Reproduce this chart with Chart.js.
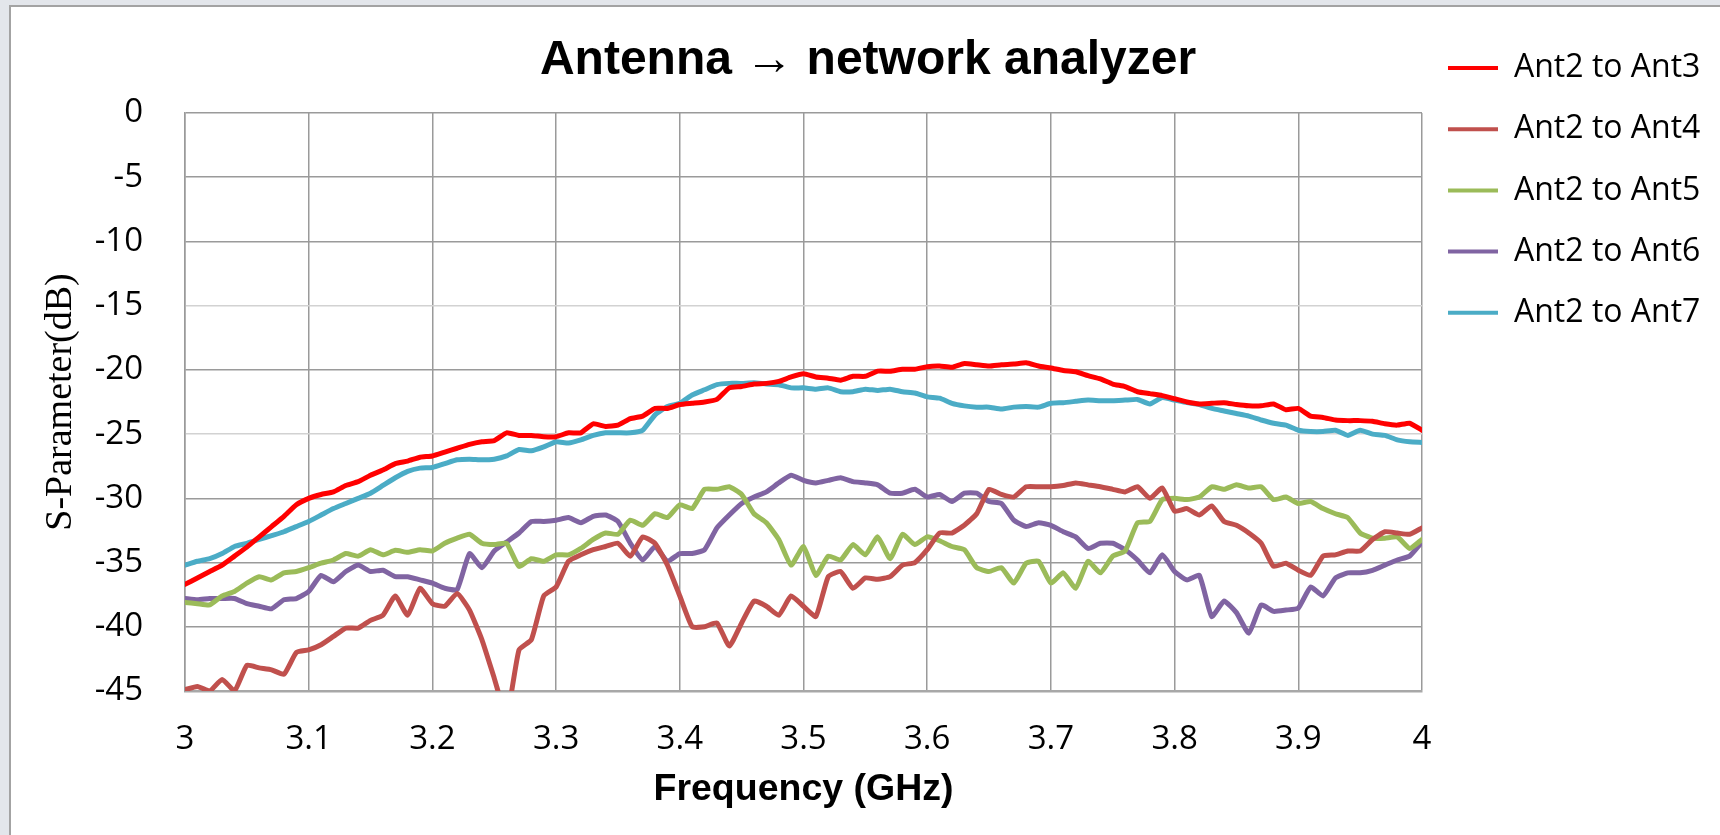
<!DOCTYPE html>
<html>
<head>
<meta charset="utf-8">
<title>Antenna → network analyzer</title>
<script src="https://cdn.jsdelivr.net/npm/chart.js@4/dist/chart.umd.min.js"></script>
<style>
    html, body { margin: 0; padding: 0; background: #e3e6eb; }
    .frame {
        position: absolute; left: 9px; top: 5px; right: 0; bottom: 0;
        background: #ffffff;
        border-left: 2px solid #a3a3a3;
        border-top: 2px solid #a3a3a3;
    }
    #chart { position: absolute; left: 0; top: 0; }
</style>
</head>
<body>
<div class="frame"></div>
<canvas id="chart" width="1720" height="835"></canvas>
<script>
// Frequency sweep (GHz)
const freq = [
    3.00, 3.01, 3.02, 3.03, 3.04, 3.05, 3.06, 3.07, 3.08, 3.09,
    3.10, 3.11, 3.12, 3.13, 3.14, 3.15, 3.16, 3.17, 3.18, 3.19,
    3.20, 3.21, 3.22, 3.23, 3.24, 3.25, 3.26, 3.27, 3.28, 3.29,
    3.30, 3.31, 3.32, 3.33, 3.34, 3.35, 3.36, 3.37, 3.38, 3.39,
    3.40, 3.41, 3.42, 3.43, 3.44, 3.45, 3.46, 3.47, 3.48, 3.49,
    3.50, 3.51, 3.52, 3.53, 3.54, 3.55, 3.56, 3.57, 3.58, 3.59,
    3.60, 3.61, 3.62, 3.63, 3.64, 3.65, 3.66, 3.67, 3.68, 3.69,
    3.70, 3.71, 3.72, 3.73, 3.74, 3.75, 3.76, 3.77, 3.78, 3.79,
    3.80, 3.81, 3.82, 3.83, 3.84, 3.85, 3.86, 3.87, 3.88, 3.89,
    3.90, 3.91, 3.92, 3.93, 3.94, 3.95, 3.96, 3.97, 3.98, 3.99, 4.00
];

// S-parameters (dB)
const ant3 = [
    -36.7, -36.2, -35.7, -35.2, -34.5, -33.8, -33.0, -32.2, -31.4, -30.5,
    -30.0, -29.7, -29.5, -29.0, -28.7, -28.2, -27.8, -27.3, -27.1, -26.8,
    -26.7, -26.4, -26.1, -25.8, -25.6, -25.5, -24.9, -25.1, -25.1, -25.2,
    -25.2, -24.9, -24.9, -24.2, -24.4, -24.3, -23.8, -23.6, -23.0, -23.0,
    -22.7, -22.6, -22.5, -22.3, -21.4, -21.3, -21.1, -21.05, -20.9, -20.55,
    -20.3, -20.55, -20.65, -20.8, -20.5, -20.5, -20.1, -20.1, -19.95, -19.95,
    -19.75, -19.7, -19.8, -19.5, -19.6, -19.7, -19.6, -19.55, -19.45, -19.7,
    -19.85, -20.05, -20.15, -20.45, -20.7, -21.1, -21.3, -21.7, -21.85, -22.0,
    -22.25, -22.5, -22.65, -22.6, -22.55, -22.7, -22.8, -22.8, -22.65, -23.1,
    -23.0, -23.6, -23.7, -23.9, -23.95, -23.95, -24.0, -24.2, -24.3, -24.15, -24.7
];
const ant4 = [
    -44.9, -44.65, -45.0, -44.1, -45.0, -43.0, -43.2, -43.35, -43.7, -42.0,
    -41.8, -41.4, -40.75, -40.1, -40.1, -39.5, -39.1, -37.6, -39.1, -37.0,
    -38.2, -38.4, -37.4, -38.7, -41.0, -44.0, -47.0, -41.8, -41.0, -37.6,
    -36.9, -34.9, -34.4, -34.0, -33.75, -33.5, -34.5, -33.0, -33.5, -35.2,
    -37.6, -40.0, -40.0, -39.7, -41.5, -39.7, -38.0, -38.4, -39.1, -37.6,
    -38.4, -39.2, -36.1, -35.7, -37.0, -36.2, -36.3, -36.1, -35.2, -35.0,
    -34.0, -32.7, -32.7, -32.1, -31.2, -29.3, -29.7, -29.9, -29.1, -29.1,
    -29.1, -29.0, -28.8, -28.95, -29.1, -29.3, -29.5, -29.1, -30.0, -29.2,
    -31.0, -30.8, -31.3, -30.6, -31.8, -32.1, -32.7, -33.5, -35.3, -35.05,
    -35.6, -36.0, -34.5, -34.4, -34.1, -34.1, -33.2, -32.6, -32.7, -32.8, -32.3
];
const ant5 = [
    -38.1, -38.2, -38.3, -37.6, -37.25, -36.6, -36.1, -36.35, -35.8, -35.7,
    -35.4, -35.05, -34.8, -34.3, -34.5, -34.0, -34.4, -34.05, -34.2, -34.0,
    -34.1, -33.5, -33.1, -32.8, -33.5, -33.6, -33.5, -35.3, -34.7, -34.9,
    -34.4, -34.4, -33.9, -33.2, -32.7, -32.8, -31.7, -32.1, -31.2, -31.5,
    -30.5, -30.8, -29.3, -29.3, -29.1, -29.7, -31.2, -31.9, -33.2, -35.2,
    -33.75, -36.0, -34.5, -34.8, -33.6, -34.4, -33.0, -34.7, -32.8, -33.6,
    -33.0, -33.3, -33.75, -34.0, -35.4, -35.7, -35.4, -36.6, -35.05, -34.9,
    -36.6, -35.8, -37.0, -34.9, -35.8, -34.5, -34.1, -31.9, -31.8, -30.1,
    -30.0, -30.1, -29.9, -29.1, -29.3, -28.95, -29.2, -29.1, -30.1, -29.9,
    -30.4, -30.25, -30.8, -31.2, -31.5, -32.7, -33.1, -33.1, -33.0, -33.9, -33.2
];
const ant6 = [
    -37.8, -37.9, -37.8, -37.8, -37.8, -38.2, -38.4, -38.6, -37.9, -37.8,
    -37.25, -36.0, -36.5, -35.7, -35.2, -35.7, -35.6, -36.1, -36.1, -36.35,
    -36.6, -37.0, -37.1, -34.3, -35.4, -34.1, -33.4, -32.7, -31.8, -31.8,
    -31.7, -31.5, -31.9, -31.4, -31.3, -31.8, -33.5, -34.8, -33.75, -34.9,
    -34.3, -34.3, -34.0, -32.3, -31.3, -30.4, -29.9, -29.5, -28.8, -28.2,
    -28.6, -28.8, -28.6, -28.4, -28.7, -28.8, -28.95, -29.6, -29.6, -29.3,
    -29.9, -29.7, -30.25, -29.6, -29.6, -30.25, -30.4, -31.7, -32.2, -31.9,
    -32.1, -32.6, -33.0, -33.9, -33.5, -33.5, -34.0, -34.8, -35.8, -34.4,
    -35.7, -36.35, -36.0, -39.2, -38.0, -38.9, -40.5, -38.3, -38.8, -38.7,
    -38.55, -36.9, -37.6, -36.2, -35.8, -35.8, -35.6, -35.2, -34.8, -34.5, -33.4
];
const ant7 = [
    -35.2, -34.9, -34.7, -34.3, -33.75, -33.5, -33.2, -32.9, -32.6, -32.2,
    -31.8, -31.3, -30.8, -30.4, -30.0, -29.6, -29.0, -28.4, -27.9, -27.65,
    -27.6, -27.3, -27.0, -26.95, -27.0, -26.95, -26.7, -26.2, -26.3, -26.0,
    -25.6, -25.7, -25.45, -25.1, -24.9, -24.9, -24.9, -24.7, -23.5, -22.85,
    -22.6, -21.95, -21.55, -21.15, -21.05, -21.05, -21.0, -21.1, -21.15, -21.4,
    -21.4, -21.5, -21.4, -21.7, -21.7, -21.5, -21.6, -21.5, -21.7, -21.8,
    -22.1, -22.2, -22.6, -22.8, -22.9, -22.9, -23.05, -22.9, -22.85, -22.9,
    -22.6, -22.55, -22.45, -22.35, -22.4, -22.4, -22.35, -22.3, -22.65, -22.15,
    -22.35, -22.55, -22.7, -23.0, -23.2, -23.4, -23.6, -23.9, -24.15, -24.3,
    -24.7, -24.8, -24.8, -24.7, -25.1, -24.7, -25.0, -25.1, -25.45, -25.6, -25.65
];

const seriesNames = ['Ant2 to Ant3', 'Ant2 to Ant4', 'Ant2 to Ant5', 'Ant2 to Ant6', 'Ant2 to Ant7'];
const seriesColors = ['#ff0000', '#c0504d', '#9bbb59', '#8064a2', '#4bacc6'];

// Axis ticks
const freqTicks = [3, 3.1, 3.2, 3.3, 3.4, 3.5, 3.6, 3.7, 3.8, 3.9, 4];
const dbTicks = [0, -5, -10, -15, -20, -25, -30, -35, -40, -45];

const PLOT_RIGHT = 1422;

function makeDataset(name, values, color) {
    return {
        label: name,
        data: freq.map((f, i) => ({ x: f, y: values[i] })),
        borderColor: color,
        backgroundColor: color,
        borderWidth: 5,
        pointRadius: 0,
        tension: 0.15,
        borderJoinStyle: 'round',
        borderCapStyle: 'round',
        fill: false
    };
}

function initChart() {
    const ctx = document.getElementById('chart').getContext('2d');
    const allSeries = [ant3, ant4, ant5, ant6, ant7];
    new Chart(ctx, {
        type: 'line',
        data: {
            datasets: allSeries.map((s, i) => makeDataset(seriesNames[i], s, seriesColors[i]))
        },
        options: {
            responsive: false,
            animation: false,
            devicePixelRatio: 1,
            layout: { padding: { top: 26, left: 16, right: 0, bottom: 0 } },
            scales: {
                x: {
                    type: 'linear',
                    min: 3,
                    max: 4,
                    afterBuildTicks: (scale) => { scale.ticks = freqTicks.map(v => ({ value: v })); },
                    afterFit: (scale) => { scale.height = 144; },
                    grid: { color: '#9a9a9a', lineWidth: 1.5, drawTicks: false },
                    border: { color: '#a8a8a8', width: 2.5 },
                    ticks: {
                        color: '#000',
                        padding: 29,
                        maxRotation: 0,
                        font: { family: "'Open Sans', sans-serif", size: 33 },
                        callback: (v) => String(v)
                    },
                    title: {
                        display: true,
                        text: 'Frequency (GHz)',
                        color: '#000',
                        padding: { top: 0, bottom: 23 },
                        font: { family: "'Liberation Sans', Arial, sans-serif", size: 37.5, weight: 'bold' }
                    }
                },
                y: {
                    min: -45,
                    max: 0,
                    afterBuildTicks: (scale) => { scale.ticks = dbTicks.map(v => ({ value: v })); },
                    afterFit: (scale) => { scale.width = 169; },
                    grid: {
                        drawTicks: false,
                        lineWidth: 1.5,
                        color: (c) => (c.tick && (c.tick.value === -15 || c.tick.value === -25)) ? '#d2d2d2' : '#9a9a9a'
                    },
                    border: { color: '#9a9a9a', width: 1.5 },
                    ticks: {
                        color: '#000',
                        padding: 42,
                        font: { family: "'Open Sans', sans-serif", size: 33 }
                    },
                    title: {
                        display: true,
                        text: 'S-Parameter(dB)',
                        color: '#000',
                        padding: { top: 22, bottom: 0 },
                        font: { family: "'Liberation Serif', 'Times New Roman', serif", size: 38 }
                    }
                },
                // empty box outside the legend, keeps the plot's right edge in place
                pad: {
                    type: 'linear',
                    position: 'right',
                    weight: 2000,
                    grid: { display: false },
                    ticks: { display: false },
                    border: { display: false },
                    afterFit: (scale) => {
                        const lg = scale.chart.legend;
                        scale.width = Math.max(0, scale.chart.width - PLOT_RIGHT - (lg ? lg.width : 0));
                    }
                }
            },
            plugins: {
                title: {
                    display: true,
                    text: 'Antenna → network analyzer',
                    color: '#000',
                    padding: { top: 6, bottom: 23.4 },
                    font: { family: "'Liberation Sans', Arial, sans-serif", size: 48, weight: 'bold' }
                },
                legend: {
                    position: 'right',
                    align: 'start',
                    maxWidth: 400,
                    labels: {
                        boxWidth: 50,
                        boxHeight: 4,
                        padding: 26,
                        color: '#000',
                        font: { family: "'Open Sans', sans-serif", size: 32, lineHeight: 1.1 },
                        generateLabels: (chart) => Chart.defaults.plugins.legend.labels.generateLabels(chart)
                            .map(item => Object.assign(item, { text: [item.text], lineWidth: 0 }))
                    }
                },
                tooltip: { enabled: false }
            }
        }
    });
}

window.onload = () => {
    initChart();
};
</script>
</body>
</html>
